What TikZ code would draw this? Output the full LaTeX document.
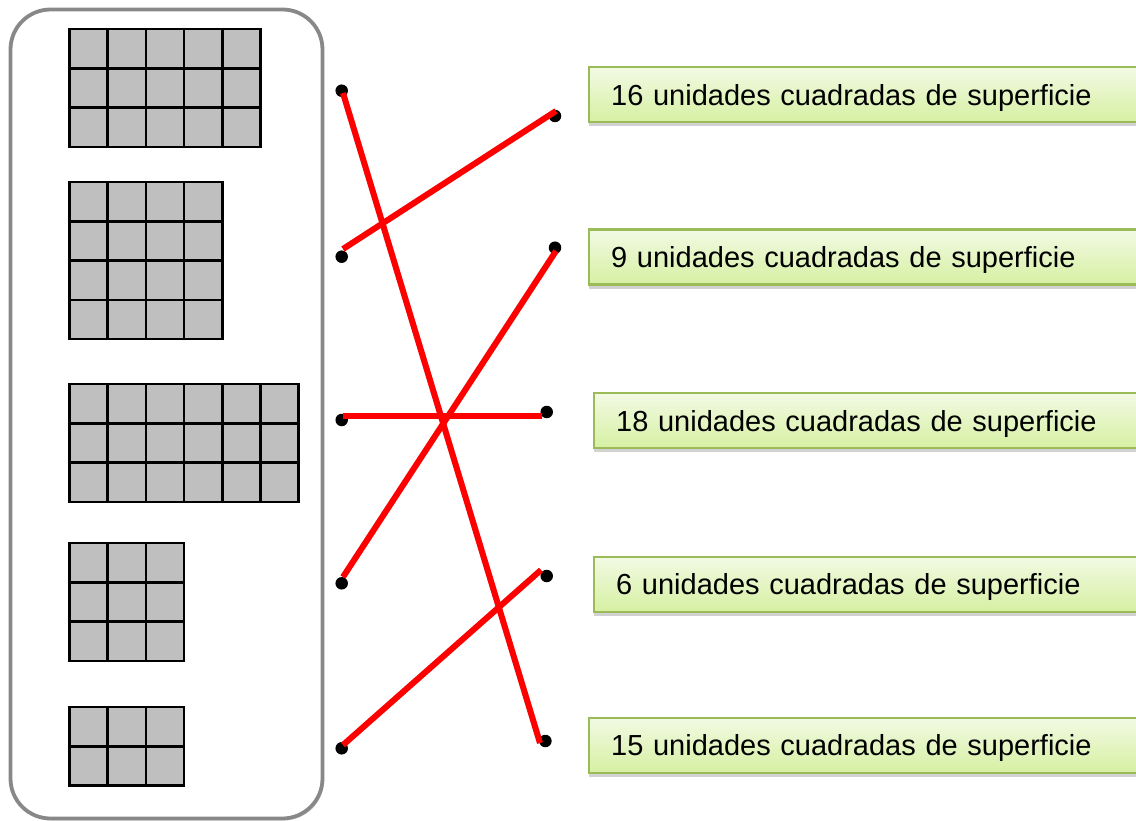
\documentclass[tikz,border=0pt]{standalone}
\usepackage{fontspec}
\setmainfont{Liberation Sans}
\usetikzlibrary{shadows}
\definecolor{framegray}{RGB}{136,136,136}
\definecolor{cellfill}{RGB}{191,191,191}
\definecolor{boxtop}{RGB}{242,250,228}
\definecolor{boxbot}{RGB}{214,240,162}
\definecolor{boxborder}{RGB}{155,187,89}
\definecolor{linkred}{RGB}{255,0,0}
\tikzset{
  frame/.style={draw=framegray, line width=3.8pt, fill=white, rounded corners=40pt,
    drop shadow={shadow xshift=1.5pt, shadow yshift=-2pt, opacity=.25}},
  gridline/.style={draw=black, line width=2.5pt, line cap=rect},
  dotnode/.style={circle, fill=black, inner sep=0pt, minimum size=12.5pt},
  link/.style={draw=linkred, line width=6pt},
  linkshadow/.style={draw=black, opacity=.12, line width=6pt},
  lbl/.style={draw=boxborder, line width=2.4pt, top color=boxtop, bottom color=boxbot,
    anchor=north west, minimum height=55pt, text width=570pt, inner xsep=22pt, inner ysep=0pt,
    text height=24pt, text depth=3pt,
    align=left, font=\fontsize{29}{34}\selectfont,
    drop shadow={shadow xshift=0pt, shadow yshift=-4pt, opacity=.35}}
}
\newcommand\gridblock[4]{%
  \fill[cellfill] (#1,#2) rectangle ++(#3*38.2,#4*39.3);
  \foreach \i in {0,...,#3} \draw[gridline] (#1+\i*38.2,#2) -- ++(0,#4*39.3);
  \foreach \j in {0,...,#4} \draw[gridline] (#1,#2+\j*39.3) -- ++(#3*38.2,0);
}
\begin{document}
\begin{tikzpicture}[x=1pt,y=-1pt]
\clip (0,0) rectangle (1136,821);
\fill[white] (0,0) rectangle (1136,821);
% frame
\path[frame] (10.5,9.5) rectangle (322.5,818.5);
% grids
\gridblock{69.5}{29}{5}{3}
\gridblock{69.5}{182}{4}{4}
\gridblock{69.5}{384}{6}{3}
\gridblock{69.5}{543}{3}{3}
\gridblock{69.5}{707}{3}{2}
% label boxes
\node[lbl] (r1) at (588,66) {16 unidades cuadradas de superficie};
\node[lbl] (r2) at (588,228.5) {9 unidades cuadradas de superficie};
\node[lbl] (r3) at (593,392) {18 unidades cuadradas de superficie};
\node[lbl] (r4) at (593,555.5) {6 unidades cuadradas de superficie};
\node[lbl] (r5) at (588,716.5) {15 unidades cuadradas de superficie};
% line end coordinates
\coordinate (a1) at (343,93);   \coordinate (e1) at (540,743);
\coordinate (a2) at (343,249);  \coordinate (e2) at (556,111);
\coordinate (a3) at (343,416);  \coordinate (e3) at (542,416);
\coordinate (a4) at (343,577);  \coordinate (e4) at (556,251);
\coordinate (a5) at (343,745);  \coordinate (e5) at (541,570);
% shadows of links
\begin{scope}[shift={(1,2.5)}]
\draw[linkshadow] (a1) -- (e1);
\draw[linkshadow] (a2) -- (e2);
\draw[linkshadow] (a3) -- (e3);
\draw[linkshadow] (a4) -- (e4);
\draw[linkshadow] (a5) -- (e5);
\end{scope}
% dots
\node[dotnode] (l1) at (341.7,90.7) {};
\node[dotnode] (l2) at (341.7,256.7) {};
\node[dotnode] (l3) at (341.7,420) {};
\node[dotnode] (l4) at (341.7,583.3) {};
\node[dotnode] (l5) at (341.7,748.3) {};
\node[dotnode] (d1) at (555,116) {};
\node[dotnode] (d2) at (555,247.7) {};
\node[dotnode] (d3) at (546.7,412) {};
\node[dotnode] (d4) at (546.7,576) {};
\node[dotnode] (d5) at (545.4,741) {};
% links
\draw[link] (a1) -- (e1);
\draw[link] (a2) -- (e2);
\draw[link] (a3) -- (e3);
\draw[link] (a4) -- (e4);
\draw[link] (a5) -- (e5);
\end{tikzpicture}
\end{document}
